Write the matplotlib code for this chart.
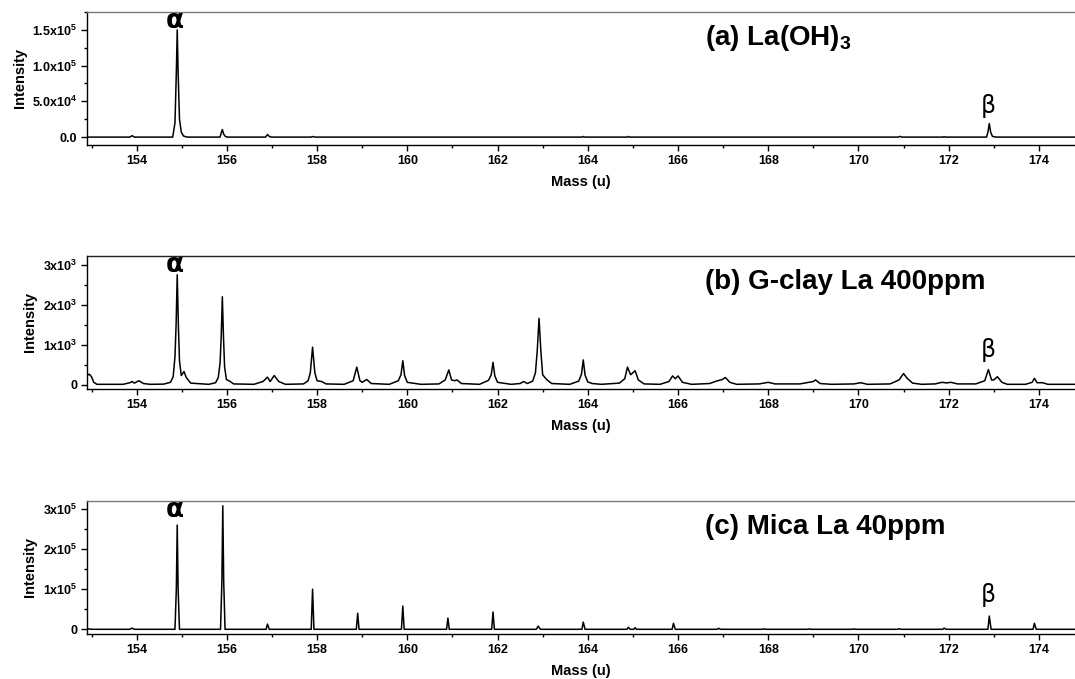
import matplotlib
matplotlib.use("Agg")
import matplotlib.pyplot as plt
from matplotlib.ticker import FixedLocator, MultipleLocator, FixedFormatter
import matplotlib.transforms as mtransforms

plt.rcParams['font.family'] = ['Liberation Sans', 'DejaVu Sans']
plt.rcParams['mathtext.fontset'] = 'custom'
plt.rcParams['mathtext.bf'] = 'Liberation Sans:bold'
plt.rcParams['mathtext.rm'] = 'Liberation Sans:bold'
plt.rcParams['mathtext.default'] = 'bf'

# ---- spectra: (mass, intensity) points along each trace ----
spectrum_a = [
    (152.9, 0), (153.85, 0), (153.9, 2000), (153.95, 0),
    (154.8, 0), (154.85, 20000), (154.88, 90000), (154.9, 150000),
    (154.92, 90000), (154.95, 25000), (154.99, 7000), (155.04, 1500), (155.12, 0),
    (155.85, 0), (155.88, 7000), (155.9, 10500), (155.93, 4000), (155.97, 800), (156.02, 0),
    (156.86, 0), (156.9, 3700), (156.95, 500), (157.0, 0),
    (157.87, 0), (157.9, 800), (157.95, 0),
    (163.88, 0), (163.9, 900), (163.93, 0),
    (164.88, 0), (164.9, 900), (164.93, 0),
    (170.88, 0), (170.92, 1000), (170.96, 0),
    (171.88, 0), (171.9, 600), (171.93, 0),
    (172.84, 0), (172.87, 7000), (172.9, 19000), (172.93, 7000),
    (172.97, 1000), (173.05, 0), (174.8, 0),
]

spectrum_b = [
    (152.9, 230), (152.95, 265), (153.0, 200), (153.05, 60), (153.12, 10),
    (153.7, 10), (153.85, 50), (153.9, 80), (153.95, 40), (154.05, 100),
    (154.15, 30), (154.3, 10), (154.6, 15), (154.75, 60), (154.81, 200),
    (154.85, 700), (154.875, 1500), (154.9, 2750), (154.925, 1500), (154.95, 600),
    (154.99, 230), (155.05, 330), (155.1, 180), (155.2, 40), (155.6, 10),
    (155.75, 50), (155.81, 180), (155.85, 550), (155.875, 1200), (155.9, 2200),
    (155.925, 1200), (155.95, 450), (155.99, 130), (156.06, 90), (156.15, 20),
    (156.6, 10), (156.8, 80), (156.9, 190), (156.96, 80), (157.05, 230),
    (157.15, 80), (157.3, 10), (157.7, 20), (157.8, 100), (157.85, 300),
    (157.9, 940), (157.95, 300), (158.0, 100), (158.1, 80), (158.2, 20),
    (158.6, 10), (158.8, 100), (158.88, 440), (158.95, 100), (159.0, 60),
    (159.1, 130), (159.2, 30), (159.6, 10), (159.8, 100), (159.86, 250),
    (159.9, 600), (159.94, 230), (160.0, 60), (160.12, 40), (160.3, 10),
    (160.7, 20), (160.84, 120), (160.92, 370), (160.98, 120), (161.05, 100),
    (161.1, 120), (161.2, 30), (161.6, 10), (161.8, 110), (161.86, 250),
    (161.9, 560), (161.94, 220), (162.0, 60), (162.12, 40), (162.3, 10),
    (162.5, 30), (162.58, 80), (162.66, 30), (162.78, 90), (162.84, 300),
    (162.88, 850), (162.92, 1660), (162.96, 850), (163.0, 250), (163.05, 180),
    (163.1, 120), (163.2, 30), (163.6, 10), (163.8, 90), (163.86, 260),
    (163.9, 620), (163.94, 240), (164.0, 70), (164.1, 30), (164.3, 10),
    (164.7, 40), (164.82, 150), (164.88, 440), (164.95, 250), (165.05, 350),
    (165.12, 120), (165.25, 20), (165.6, 10), (165.8, 80), (165.88, 220),
    (165.94, 150), (166.0, 220), (166.1, 60), (166.3, 10), (166.7, 30),
    (166.85, 90), (166.92, 110), (166.98, 130), (167.05, 180), (167.15, 60),
    (167.3, 10), (167.8, 20), (168.0, 60), (168.15, 20), (168.7, 20),
    (168.9, 60), (169.0, 80), (169.05, 120), (169.15, 30), (169.4, 10),
    (169.9, 20), (170.05, 50), (170.2, 10), (170.7, 20), (170.9, 120),
    (171.0, 280), (171.08, 160), (171.2, 40), (171.4, 10), (171.7, 20),
    (171.85, 60), (171.95, 45), (172.05, 60), (172.2, 20), (172.6, 20),
    (172.8, 100), (172.88, 380), (172.95, 120), (173.0, 120), (173.08, 200),
    (173.18, 60), (173.3, 10), (173.7, 10), (173.85, 60), (173.9, 160),
    (173.96, 50), (174.08, 50), (174.2, 10), (174.8, 10),
]

spectrum_c = [
    (152.9, 1500), (153.0, 0), (153.85, 0), (153.9, 3000), (153.95, 0),
    (154.85, 0), (154.88, 100000), (154.9, 260000), (154.92, 100000), (154.95, 0),
    (155.86, 0), (155.89, 120000), (155.91, 308000), (155.93, 120000), (155.96, 0),
    (156.87, 0), (156.9, 13000), (156.94, 0),
    (157.87, 0), (157.9, 100000), (157.93, 0),
    (158.87, 0), (158.9, 40000), (158.93, 0),
    (159.87, 0), (159.9, 58000), (159.93, 0),
    (160.87, 0), (160.9, 28000), (160.93, 0),
    (161.87, 0), (161.9, 43000), (161.93, 0),
    (162.86, 0), (162.9, 8000), (162.95, 0),
    (163.87, 0), (163.9, 18000), (163.94, 0),
    (164.87, 0), (164.9, 5000), (164.94, 0),
    (165.02, 0), (165.05, 4000), (165.08, 0),
    (165.87, 0), (165.9, 15000), (165.94, 0),
    (166.87, 0), (166.9, 2500), (166.94, 0),
    (167.87, 0), (167.9, 1000), (167.94, 0),
    (168.87, 0), (168.9, 1000), (168.94, 0),
    (169.87, 0), (169.9, 1000), (169.94, 0),
    (170.87, 0), (170.9, 1500), (170.94, 0),
    (171.87, 0), (171.9, 3000), (171.94, 0),
    (172.87, 0), (172.9, 33000), (172.94, 0),
    (173.87, 0), (173.9, 15000), (173.94, 0),
    (174.8, 0),
]

titles = ["(a) La(OH)$_{3}$", "(b) G-clay La 400ppm", "(c) Mica La 40ppm"]

yticks_a = [0, 50000, 100000, 150000]
ylabels_a = ["0.0", r"$5.0x10^{4}$", r"$1.0x10^{5}$", r"$1.5x10^{5}$"]
yticks_b = [0, 1000, 2000, 3000]
ylabels_b = ["0", r"$1x10^{3}$", r"$2x10^{3}$", r"$3x10^{3}$"]
yticks_c = [0, 100000, 200000, 300000]
ylabels_c = ["0", r"$1x10^{5}$", r"$2x10^{5}$", r"$3x10^{5}$"]

xticks = list(range(154, 176, 2))

alpha_mass = 154.85
beta_mass = 172.87

panels = [
    dict(data=spectrum_a, ylim=(-11000, 175000), yticks=yticks_a, ylabels=ylabels_a,
         yminor=25000, bottom=0.7865, top_color="#7a7a7a"),
    dict(data=spectrum_b, ylim=(-107, 3220), yticks=yticks_b, ylabels=ylabels_b,
         yminor=500, bottom=0.4271, top_color="#222222"),
    dict(data=spectrum_c, ylim=(-11700, 320000), yticks=yticks_c, ylabels=ylabels_c,
         yminor=50000, bottom=0.0663, top_color="#7a7a7a"),
]

fig = plt.figure(figsize=(10.75, 6.79), dpi=100)

left = 87 / 1075
width = 1.0 - left
height = 133 / 679

for p, title in zip(panels, titles):
    ax = fig.add_axes([left, p["bottom"], width, height])
    mass, inten = zip(*p["data"])
    ax.plot(mass, inten, color="black", lw=1.1)
    ax.set_xlim(152.9, 174.8)
    ax.set_ylim(*p["ylim"])

    ax.xaxis.set_major_locator(FixedLocator(xticks))
    ax.xaxis.set_minor_locator(MultipleLocator(1))
    ax.yaxis.set_major_locator(FixedLocator(p["yticks"]))
    ax.yaxis.set_major_formatter(FixedFormatter(p["ylabels"]))
    ax.yaxis.set_minor_locator(MultipleLocator(p["yminor"]))

    ax.tick_params(which="major", direction="out", length=4, width=1,
                   labelsize=9, pad=3)
    ax.tick_params(which="minor", direction="out", length=2.5, width=1)
    for lab in ax.get_xticklabels() + ax.get_yticklabels():
        lab.set_fontweight("bold")

    ax.spines["right"].set_visible(False)
    ax.spines["top"].set_color(p["top_color"])
    for s in ("left", "bottom", "top"):
        ax.spines[s].set_linewidth(1.0)

    ax.set_xlabel("Mass (u)", fontsize=10.5, fontweight="bold", labelpad=6)
    ax.set_ylabel("Intensity", fontsize=10.5, fontweight="bold", labelpad=4)

    ax.text(0.6255, 0.755, title, transform=ax.transAxes, fontsize=20,
            fontweight="bold", ha="left", va="baseline")

    trans = mtransforms.blended_transform_factory(ax.transData, ax.transAxes)
    ax.text(alpha_mass, 0.88, "\u03b1", transform=trans, fontsize=19,
            ha="center", va="baseline", fontweight="bold",
            family=["DejaVu Sans"])
    ax.text(beta_mass, 0.24, "\u03b2", transform=trans, fontsize=17,
            ha="center", va="baseline", fontweight="normal",
            family=["DejaVu Sans"])

fig.savefig("out.png", dpi=100)
